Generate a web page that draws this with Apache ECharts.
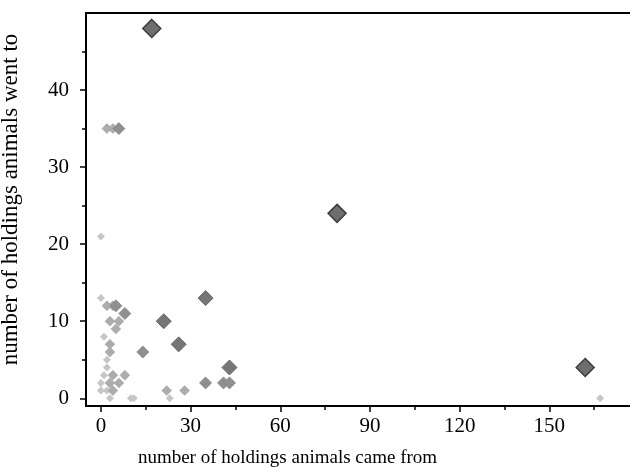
<!DOCTYPE html>
<html>
<head>
<meta charset="utf-8">
<script src="https://cdn.jsdelivr.net/npm/echarts@6/dist/echarts.min.js"></script>
<style>
html, body { margin: 0; padding: 0; background: #fff; }
#chart_scatter { width: 630px; height: 470px; }
</style>
</head>
<body>
<div id="chart_scatter"></div>
<script>
// [came from, went to] grouped by marker weight
var pts_small = [[0, 21], [0, 13], [1, 8], [2, 5], [2, 4], [1, 3], [0, 2], [0, 1], [2, 1], [3, 0], [10, 0], [11, 0], [23, 0], [167, 0]];
var pts_light = [[2, 35], [4, 35], [2, 12], [4, 12], [3, 10], [6, 10], [5, 9], [3, 7], [3, 6], [4, 3], [8, 3], [3, 2], [6, 2], [4, 1], [22, 1], [28, 1]];
var pts_mid = [[6, 35], [5, 12], [8, 11], [14, 6], [35, 2], [41, 2], [43, 2]];
var pts_dark = [[35, 13], [21, 10], [26, 7], [43, 4]];
var pts_big = [[17, 48], [79, 24], [162, 4]];

var x_ticks = [0, 30, 60, 90, 120, 150];
var x_minor = [15, 45, 75, 105, 135, 165];
var y_ticks = [0, 10, 20, 30, 40];
var y_minor = [5, 15, 25, 35, 45];

var chart_scatter = echarts.init(document.getElementById("chart_scatter"));

var font = 'Liberation Serif';
var black = '#000';

function makeSeries(data, size, fill, border, bw) {
    return {
        type: 'scatter',
        xAxisIndex: 0,
        yAxisIndex: 0,
        symbol: 'diamond',
        symbolSize: size,
        data: data,
        itemStyle: {
            color: fill,
            borderColor: border,
            borderWidth: bw,
            opacity: 1
        }
    };
}

var chart_scatter_option = {
    animation: false,
    grid: {
        left: 86,
        right: -9,
        top: 13,
        bottom: 64,
        containLabel: false,
        outerBoundsMode: 'none',
        show: true,
        borderColor: black,
        borderWidth: 2
    },
    xAxis: [{
        type: 'value',
        min: -5,
        max: 180,
        position: 'bottom',
        name: 'number of holdings animals came from',
        nameLocation: 'middle',
        nameGap: 43,
        nameTextStyle: { fontFamily: font, fontSize: 19, color: black, padding: [0, 150, 0, 0] },
        axisLine: { onZero: false, lineStyle: { color: black, width: 2 } },
        axisTick: { customValues: x_ticks, length: 6, lineStyle: { color: black, width: 1.5 } },
        axisLabel: { customValues: x_ticks, margin: 10, fontFamily: font, fontSize: 21, color: black },
        splitLine: { show: false }
    }, {
        type: 'value',
        min: -5,
        max: 180,
        position: 'bottom',
        axisLine: { show: false, onZero: false },
        axisTick: { customValues: x_minor, length: 4, lineStyle: { color: black, width: 1.5 } },
        axisLabel: { show: false },
        splitLine: { show: false }
    }],
    yAxis: [{
        type: 'value',
        min: -1,
        max: 50,
        position: 'left',
        name: 'number of holdings animals went to',
        nameLocation: 'middle',
        nameGap: 64,
        nameTextStyle: { fontFamily: font, fontSize: 23, color: black, padding: [0, 0, 0, 20] },
        axisLine: { onZero: false, lineStyle: { color: black, width: 2 } },
        axisTick: { customValues: y_ticks, length: 6, lineStyle: { color: black, width: 1.5 } },
        axisLabel: { customValues: y_ticks, margin: 17, fontFamily: font, fontSize: 21, color: black },
        splitLine: { show: false }
    }, {
        type: 'value',
        min: -1,
        max: 50,
        position: 'left',
        axisLine: { show: false, onZero: false },
        axisTick: { customValues: y_minor, length: 4, lineStyle: { color: black, width: 1.5 } },
        axisLabel: { show: false },
        splitLine: { show: false }
    }],
    series: [
        makeSeries(pts_small, 8, '#c6c6c6', '#c6c6c6', 0),
        makeSeries(pts_light, 10, '#acacac', '#a4a4a4', 0.5),
        makeSeries(pts_mid, 12, '#8f8f8f', '#858585', 0.8),
        makeSeries(pts_dark, 15, '#767676', '#6a6a6a', 1),
        makeSeries(pts_big, 18, '#6e6e6e', '#3e3e3e', 1.5)
    ]
};

chart_scatter.setOption(chart_scatter_option);
</script>
</body>
</html>
